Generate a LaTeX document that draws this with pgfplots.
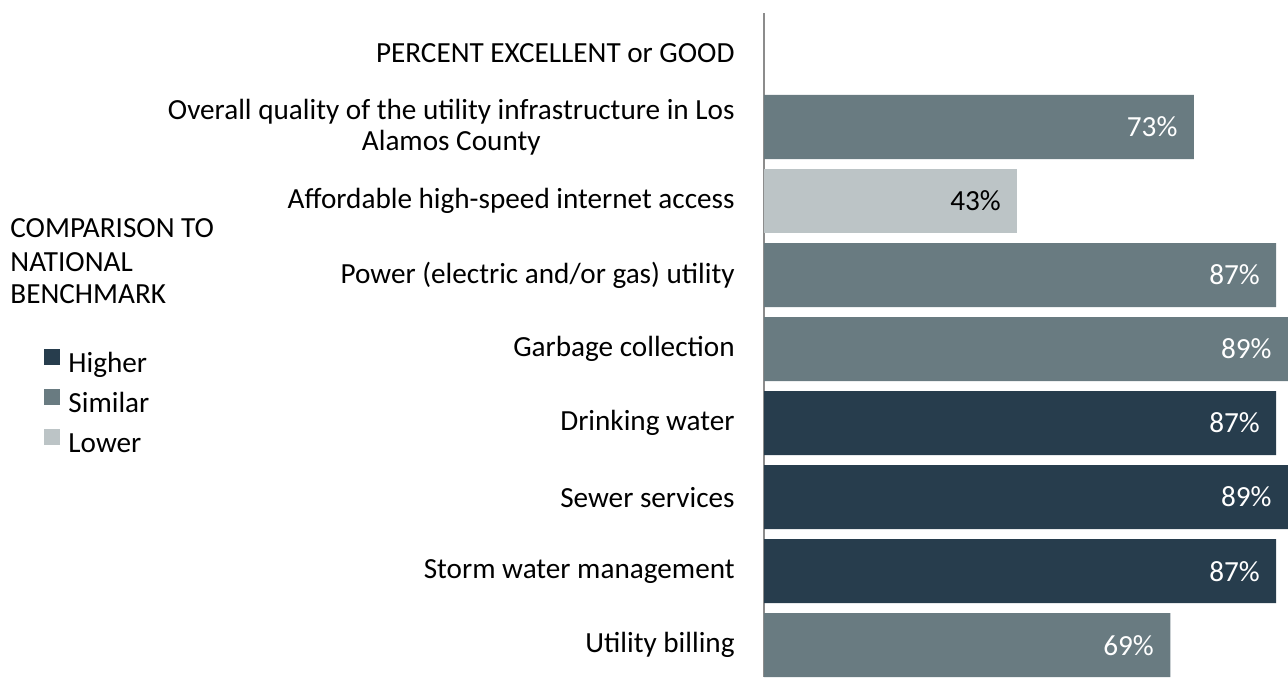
\documentclass[border=0pt]{standalone}
\usepackage{fontspec}
\setmainfont{Carlito}
\usepackage{pgfplots}
\pgfplotsset{compat=1.18}
\definecolor{cHigh}{HTML}{273D4D}
\definecolor{cSim}{HTML}{697B81}
\definecolor{cLow}{HTML}{BCC4C6}
\definecolor{cAxis}{HTML}{8C8C8C}
\begin{document}
\fontsize{14.6}{16.5}\selectfont
\begin{tikzpicture}
\begin{axis}[
  scale only axis, width=262pt, height=332pt,
  clip=false,
  xbar, bar width=0.865, bar shift=0pt,
  xmin=0, xmax=89, ymin=-0.43, ymax=8.54,
  hide x axis,
  axis y line*=left,
  y axis line style={draw=cAxis, line width=1pt, -},
  ytick={0,...,8},
  yticklabels={Utility billing, Storm water management, Sewer services, Drinking water, Garbage collection, {Power (electric and/or gas) utility}, Affordable high-speed internet access, {Overall quality of the utility infrastructure in Los\\Alamos County}, PERCENT EXCELLENT or GOOD},
  major tick length=0pt,
  yticklabel style={align=center, inner sep=0pt, xshift=-14.5pt, font=\fontsize{14.6}{15.5}\selectfont},
  /pgf/number format/assume math mode=true,
  point meta=x,
  nodes near coords={\pgfmathprintnumber{\pgfplotspointmeta}\%},
  nodes near coords style={anchor=east, inner sep=0pt, xshift=-8pt, text=white},
  legend style={at={(axis description cs:-1.374,0.494)}, anchor=north west, draw=none, fill=none, inner sep=0pt, row sep=5.5pt, column sep=4pt, nodes={inner sep=0pt, text height=10pt, text depth=3pt}},
  legend cell align=left,
  legend image code/.code={\fill[#1] (0pt,0pt) rectangle (8pt,8pt);},
]
\addplot[fill=cHigh, draw=none] coordinates {(87,3) (89,2) (87,1)};
\addlegendentry{Higher}
\addplot[fill=cSim, draw=none] coordinates {(73,7) (87,5) (89,4) (69,0)};
\addlegendentry{Similar}
\addplot[fill=cLow, draw=none, nodes near coords style={text=black}] coordinates {(43,6)};
\addlegendentry{Lower}
\node[anchor=base west, inner sep=0pt] at (axis description cs:-1.439,0.662) {COMPARISON TO};
\node[anchor=base west, inner sep=0pt] at (axis description cs:-1.439,0.611) {NATIONAL};
\node[anchor=base west, inner sep=0pt] at (axis description cs:-1.439,0.562) {BENCHMARK};
\coordinate (br) at (axis description cs:1,0);
\end{axis}
\pgfresetboundingbox
\path[use as bounding box] (br) rectangle ++(-644pt,338.5pt);
\end{tikzpicture}
\end{document}
